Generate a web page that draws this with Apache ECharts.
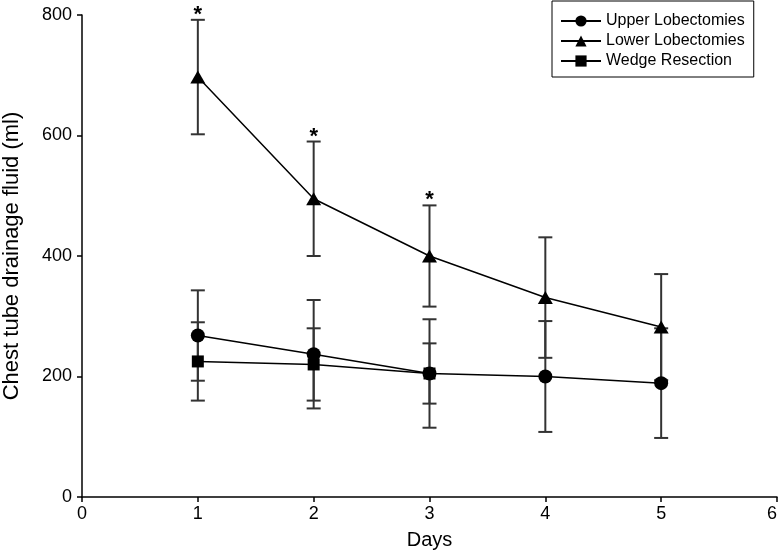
<!DOCTYPE html>
<html>
<head>
<meta charset="utf-8">
<script src="https://cdn.jsdelivr.net/npm/echarts@6/dist/echarts.min.js"></script>
<style>html,body{margin:0;padding:0;background:#fff}#c{width:780px;height:555px}</style>
</head>
<body>
<div id="c"></div>
<script>
var days = [1, 2, 3, 4, 5];
var upperMean = [268, 237, 205, 200, 189];
var upperErr = [75, 90, 90, 92, 91];
var lowerMean = [697, 495, 400, 331, 282];
var lowerErr = [95, 95, 84, 100, 88];
var wedgeDays = [1, 2, 3];
var wedgeMean = [225, 220, 205];
var wedgeErr = [65, 60, 50];
var lowerSignificant = [true, true, true, false, false];
var xTicks = [0, 1, 2, 3, 4, 5, 6];
var yTicks = [0, 200, 400, 600, 800];

var FONT = '"Liberation Sans", Arial, Helvetica, sans-serif';

function pts(xs, ys) { return xs.map(function (x, i) { return [x, ys[i]]; }); }
function errData(xs, ms, es, flags) {
  return xs.map(function (x, i) { return [x, ms[i], es[i], flags ? (flags[i] ? 1 : 0) : 0]; });
}

function renderErr(params, api) {
  var x = api.value(0), m = api.value(1), e = api.value(2), star = api.value(3);
  var top = api.coord([x, m + e]);
  var bot = api.coord([x, m - e]);
  var hw = 7;
  var st = { stroke: '#333', lineWidth: 2 };
  var children = [
    { type: 'line', shape: { x1: top[0], y1: top[1], x2: bot[0], y2: bot[1] }, style: st },
    { type: 'line', shape: { x1: top[0] - hw, y1: top[1], x2: top[0] + hw, y2: top[1] }, style: st },
    { type: 'line', shape: { x1: bot[0] - hw, y1: bot[1], x2: bot[0] + hw, y2: bot[1] }, style: st }
  ];
  if (star) {
    children.push({ type: 'text', style: { text: '*', x: top[0], y: top[1] + 6, align: 'center', verticalAlign: 'bottom', font: 'bold 22px ' + FONT, fill: '#000' } });
  }
  return { type: 'group', children: children };
}

var chart = echarts.init(document.getElementById('c'), null, { renderer: 'canvas' });
chart.setOption({
  animation: false,
  backgroundColor: '#fff',
  grid: { left: 82, right: 3, top: 15, bottom: 58, containLabel: false, outerBoundsMode: 'none' },
  legend: {
    data: ['Upper Lobectomies', 'Lower Lobectomies', 'Wedge Resection'],
    orient: 'vertical',
    left: 552, top: 1,
    padding: [12, 9, 8, 8],
    itemWidth: 40, itemHeight: 14, itemGap: 4,
    borderColor: '#000', borderWidth: 1,
    textStyle: { fontFamily: FONT, fontSize: 16, color: '#000' }
  },
  xAxis: {
    type: 'value', min: 0, max: 6, interval: 1,
    name: 'Days', nameLocation: 'middle', nameGap: 33,
    nameTextStyle: { fontFamily: FONT, fontSize: 20, color: '#000' },
    axisLine: { show: true, onZero: false, lineStyle: { color: '#000', width: 1.5 } },
    axisTick: { show: true, length: 5, lineStyle: { color: '#000', width: 1.5 } },
    axisLabel: { fontFamily: FONT, fontSize: 18, color: '#000', margin: 8, alignMaxLabel: 'right',
      formatter: function (v) { return xTicks.indexOf(v) >= 0 ? String(v) : ''; } },
    splitLine: { show: false }
  },
  yAxis: {
    type: 'value', min: 0, max: 800, interval: 200,
    name: 'Chest tube drainage fluid (ml)', nameLocation: 'middle', nameGap: 59,
    nameTextStyle: { fontFamily: FONT, fontSize: 22, color: '#000' },
    axisLine: { show: true, lineStyle: { color: '#000', width: 1.5 } },
    axisTick: { show: true, length: 5, lineStyle: { color: '#000', width: 1.5 } },
    axisLabel: { fontFamily: FONT, fontSize: 18, color: '#000', margin: 10,
      formatter: function (v) { return yTicks.indexOf(v) >= 0 ? String(v) : ''; } },
    splitLine: { show: false }
  },
  series: [
    { type: 'custom', name: 'errUpper', renderItem: renderErr, data: errData(days, upperMean, upperErr), z: 1, silent: true },
    { type: 'custom', name: 'errLower', renderItem: renderErr, data: errData(days, lowerMean, lowerErr, lowerSignificant), z: 1, silent: true },
    { type: 'custom', name: 'errWedge', renderItem: renderErr, data: errData(wedgeDays, wedgeMean, wedgeErr), z: 1, silent: true },
    { type: 'line', name: 'Upper Lobectomies', data: pts(days, upperMean), symbol: 'circle', symbolSize: 14,
      lineStyle: { color: '#000', width: 1.5 }, itemStyle: { color: '#000' }, z: 3 },
    { type: 'line', name: 'Lower Lobectomies', data: pts(days, lowerMean), symbol: 'triangle', symbolSize: [15, 13],
      lineStyle: { color: '#000', width: 1.5 }, itemStyle: { color: '#000' }, z: 3 },
    { type: 'line', name: 'Wedge Resection', data: pts(wedgeDays, wedgeMean), symbol: 'rect', symbolSize: 12,
      lineStyle: { color: '#000', width: 1.5 }, itemStyle: { color: '#000' }, z: 3 }
  ]
});
</script>
</body>
</html>
